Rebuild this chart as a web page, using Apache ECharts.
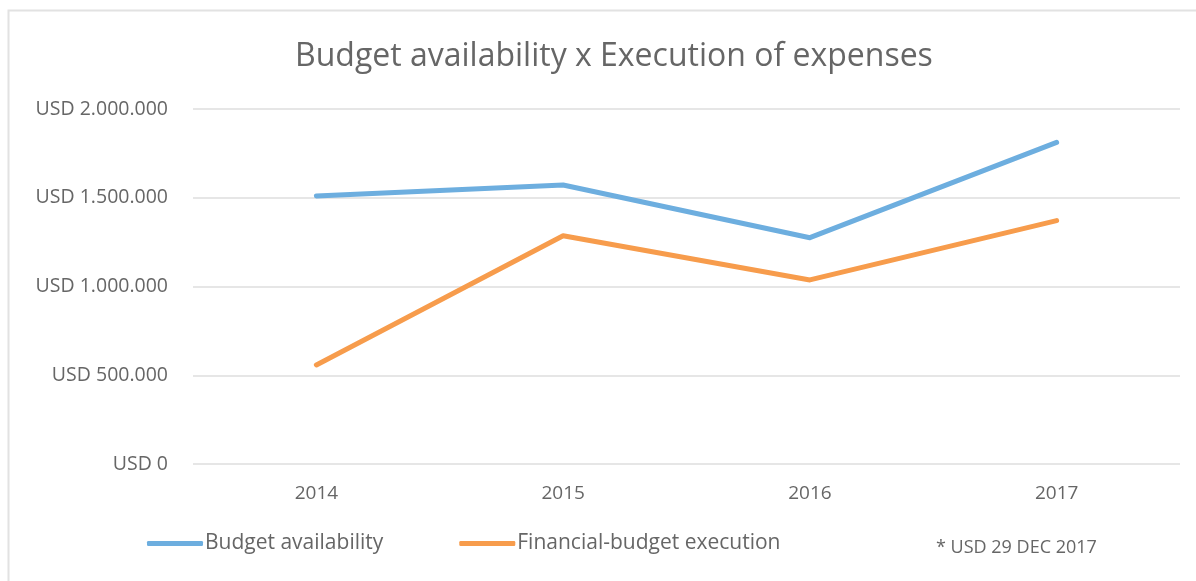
<!DOCTYPE html>
<html>
<head>
<meta charset="utf-8">
<script src="https://cdn.jsdelivr.net/npm/echarts@6/dist/echarts.min.js"></script>
<style>
html,body{margin:0;padding:0;background:#fff;}
#chart{width:1196px;height:581px;}
</style>
</head>
<body>
<div id="chart"></div>
<script>
var categories = ['2014', '2015', '2016', '2017'];
var budgetAvailability = [1510000, 1572000, 1275000, 1812000];
var financialExecution = [558000, 1286000, 1037000, 1371000];
var seriesNames = ['Budget availability', 'Financial-budget execution'];
var titleText = 'Budget availability x Execution of expenses';
var footnoteText = '* USD 29 DEC 2017';

function fmtUSD(v) {
  var s = String(Math.round(v));
  s = s.replace(/\B(?=(\d{3})+(?!\d))/g, '.');
  return 'USD ' + s;
}

var FONT = '"Open Sans", "Noto Sans", sans-serif';
var chart = echarts.init(document.getElementById('chart'), null, {renderer: 'canvas'});
chart.setOption({
  animation: false,
  backgroundColor: '#ffffff',
  title: {
    text: titleText,
    left: 290,
    top: 36,
    textStyle: {fontFamily: FONT, fontSize: 32, fontWeight: 'normal', color: '#666666'}
  },
  legend: {
    left: 142,
    top: 528,
    itemWidth: 56,
    itemHeight: 5,
    itemGap: 76,
    icon: 'roundRect',
    textStyle: {fontFamily: FONT, fontSize: 21, color: '#666666', padding: [0, 0, 0, -3]},
    data: seriesNames
  },
  grid: {left: 193, right: 16, top: 109, bottom: 117, containLabel: false},
  xAxis: {
    type: 'category',
    data: categories,
    boundaryGap: true,
    axisLine: {show: false},
    axisTick: {show: false},
    axisLabel: {fontFamily: FONT, fontSize: 19, color: '#666666', margin: 20}
  },
  yAxis: {
    type: 'value',
    min: 0,
    max: 2000000,
    interval: 500000,
    axisLine: {show: false},
    axisTick: {show: false},
    splitLine: {lineStyle: {color: '#dedede', width: 1.5}},
    axisLabel: {fontFamily: FONT, fontSize: 19.5, color: '#666666', margin: 25, formatter: fmtUSD}
  },
  graphic: [
    {type: 'rect', shape: {x: 8.5, y: 10.5, width: 1400, height: 800}, style: {fill: 'none', stroke: '#e2e2e2', lineWidth: 2}, silent: true},
    {type: 'text', left: 936, top: 539, style: {text: footnoteText, fontFamily: FONT, fontSize: 18, fill: '#666666'}}
  ],
  series: [
    {
      name: seriesNames[0], type: 'line', data: budgetAvailability,
      symbol: 'none', lineStyle: {width: 5, color: '#6DAEDF', cap: 'round', join: 'round'},
      itemStyle: {color: '#6DAEDF'}
    },
    {
      name: seriesNames[1], type: 'line', data: financialExecution,
      symbol: 'none', lineStyle: {width: 5, color: '#F79C4C', cap: 'round', join: 'round'},
      itemStyle: {color: '#F79C4C'}
    }
  ]
});
</script>
</body>
</html>
